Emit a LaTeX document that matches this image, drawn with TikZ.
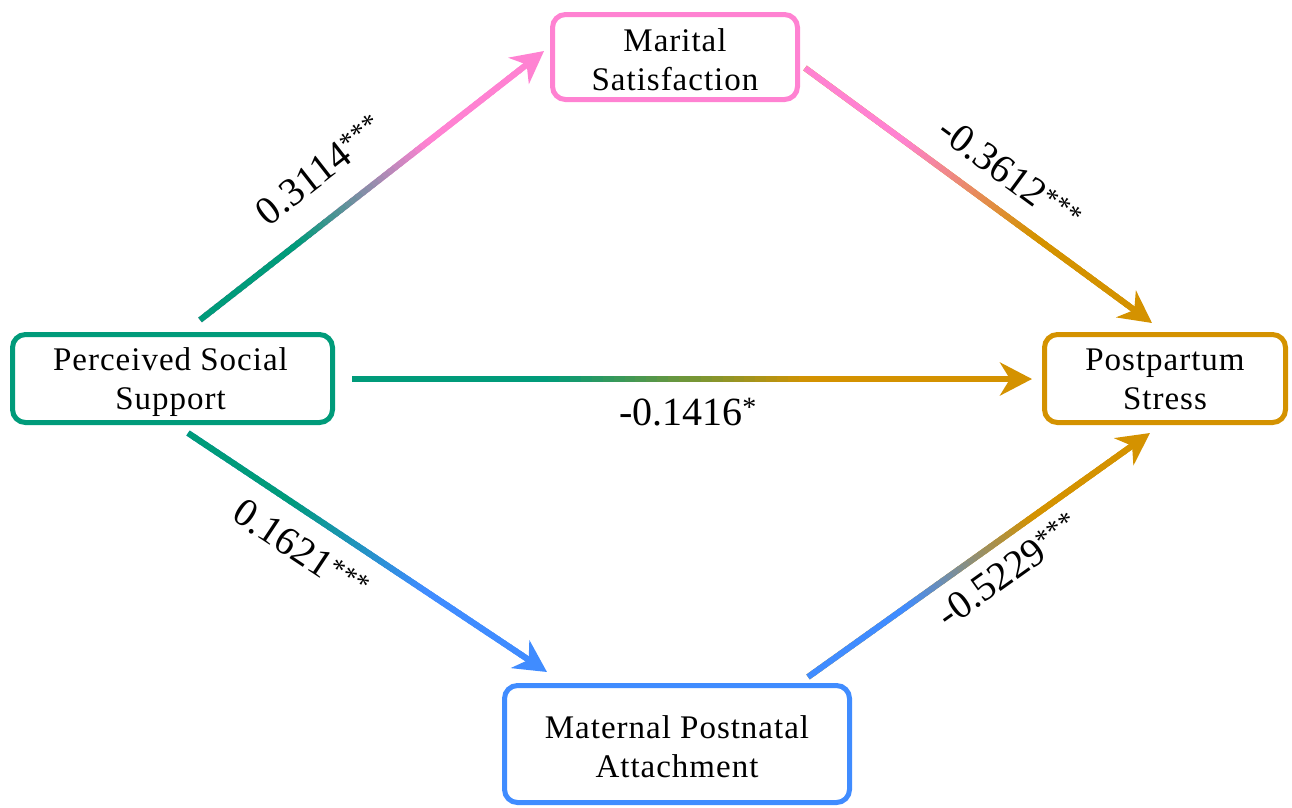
\documentclass[tikz,border=0pt]{standalone}
\usepackage{fontspec}
\setmainfont{Liberation Serif}
\usetikzlibrary{arrows.meta,calc}
\definecolor{cgreen}{RGB}{0,155,122}
\definecolor{cpink}{RGB}{255,130,210}
\definecolor{corange}{RGB}{212,146,0}
\definecolor{cblue}{RGB}{64,140,255}
\tikzset{
  box/.style={draw, line width=5pt, rounded corners=13pt, inner sep=0pt},
  btext/.style={align=center, inner sep=0pt,
    font=\addfontfeature{LetterSpace=3}\fontsize{33}{39}\selectfont},
  lab/.style={font=\fontsize{40}{44}\selectfont, inner sep=0pt},
  tipline/.style={line width=6pt, -{Stealth[length=32pt,width=33pt,inset=10pt]}},
}
\newcommand\gradconn[4]{%
  \draw[tipline, color=#4] (#1) -- (#2);
  \foreach \i in {0,...,59}{%
    \pgfmathsetmacro\pp{max(0,min(100,((\i+0.5)/60-0.3)/0.4*100))}%
    \draw[line width=6pt, color={#4!\pp!#3}]
      ($(#1)!{\i/60}!($(#2)!26pt!(#1)$)$) -- ($(#1)!{(\i+1.4)/60}!($(#2)!26pt!(#1)$)$);
  }%
}
\begin{document}
\begin{tikzpicture}[x=1pt,y=-1pt]
\fill[white] (0,0) rectangle (1292,807);
\useasboundingbox (0,0) rectangle (1292,807);

\node[box, draw=cpink, minimum width=245pt, minimum height=85pt] (ms) at (675,57) {};
\node[box, draw=cgreen, minimum width=320pt, minimum height=88pt] (pss) at (172.5,378.5) {};
\node[box, draw=corange, minimum width=241pt, minimum height=88pt] (ps) at (1165,378.5) {};
\node[box, draw=cblue, minimum width=345pt, minimum height=117pt] (mpa) at (677,744) {};

\node[btext] (ms-t) at ($(ms)+(0,2.5)$) {Marital\\Satisfaction};
\node[btext] (pss-t) at ($(pss)+(-2,4)$) {Perceived Social\\Support};
\node[btext] (ps-t) at ($(ps)+(0,1)$) {Postpartum\\Stress};
\node[btext] (mpa-t) at ($(mpa)+(0,3)$) {Maternal Postnatal\\Attachment};

\coordinate (a1s) at (200,320);  \coordinate (a1e) at (544,51);
\coordinate (a2s) at (805,68);   \coordinate (a2e) at (1152,323);
\coordinate (a3s) at (352,379);  \coordinate (a3e) at (1032,379);
\coordinate (a4s) at (188,433);  \coordinate (a4e) at (547,672);
\coordinate (a5s) at (808,677);  \coordinate (a5e) at (1150,433);

\gradconn{a1s}{a1e}{cgreen}{cpink}
\gradconn{a2s}{a2e}{cpink}{corange}
\gradconn{a3s}{a3e}{cgreen}{corange}
\gradconn{a4s}{a4e}{cgreen}{cblue}
\gradconn{a5s}{a5e}{cblue}{corange}

\node[lab, rotate=38] (l1) at (320,170) {0.3114\textsuperscript{***}};
\node[lab, rotate=-36.3] (l2) at (1010,174) {-0.3612\textsuperscript{***}};
\node[lab] (l3) at (688,412) {-0.1416\textsuperscript{*}};
\node[lab, rotate=-33.6] (l4) at (301,550) {0.1621\textsuperscript{***}};
\node[lab, rotate=35.5] (l5) at (1008,570) {-0.5229\textsuperscript{***}};
\end{tikzpicture}
\end{document}
